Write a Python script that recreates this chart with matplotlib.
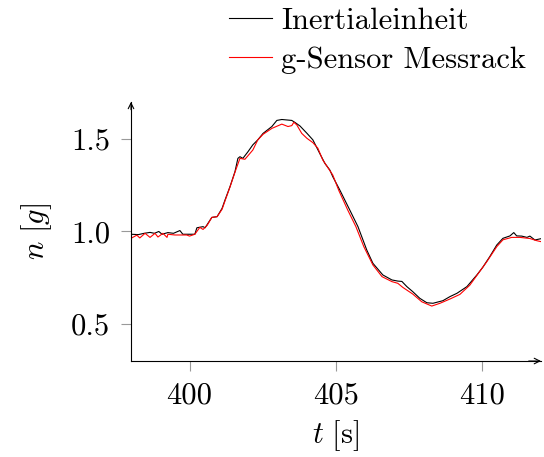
import matplotlib
matplotlib.use("Agg")
import matplotlib.pyplot as plt

plt.rcParams["mathtext.fontset"] = "cm"
plt.rcParams["font.family"] = ["cmr10", "DejaVu Sans"]
plt.rcParams["axes.formatter.use_mathtext"] = True

# Inertialeinheit (black)
t_imu = [398.00, 398.25, 398.45, 398.65, 398.80, 398.95, 399.06, 399.26, 399.45,
	399.67, 399.77, 400.00, 400.18, 400.25, 400.46, 400.53, 400.76, 400.94,
	401.11, 401.21, 401.38, 401.55, 401.65, 401.72, 401.82, 401.99, 402.16,
	402.33, 402.51, 402.81, 402.98, 403.15, 403.49, 403.60, 403.77, 404.01,
	404.21, 404.45, 404.62, 404.79, 404.89, 405.13, 405.47, 405.75, 406.05,
	406.26, 406.60, 406.91, 407.11, 407.25, 407.42, 407.62, 407.86, 408.10,
	408.31, 408.65, 408.89, 409.13, 409.47, 409.81, 410.01, 410.25, 410.49,
	410.70, 410.94, 411.07, 411.17, 411.34, 411.52, 411.62, 411.79, 412.00]
n_imu = [0.985, 0.983, 0.990, 0.995, 0.990, 1.000, 0.985, 0.994, 0.990,
	1.005, 0.985, 0.985, 0.985, 1.020, 1.026, 1.020, 1.076, 1.080,
	1.125, 1.170, 1.242, 1.323, 1.395, 1.404, 1.395, 1.430, 1.468,
	1.495, 1.530, 1.567, 1.600, 1.605, 1.600, 1.589, 1.570, 1.530,
	1.495, 1.420, 1.368, 1.332, 1.296, 1.224, 1.116, 1.026, 0.900,
	0.828, 0.765, 0.738, 0.732, 0.730, 0.702, 0.675, 0.639, 0.615,
	0.612, 0.626, 0.648, 0.666, 0.702, 0.765, 0.806, 0.864, 0.927,
	0.963, 0.976, 0.994, 0.976, 0.975, 0.968, 0.975, 0.954, 0.961]

# g-Sensor Messrack (red)
t_gs = [398.00, 398.20, 398.30, 398.48, 398.65, 398.82, 398.92, 399.09, 399.23,
	399.26, 399.50, 399.90, 400.00, 400.18, 400.35, 400.46, 400.60, 400.76,
	400.94, 401.11, 401.21, 401.38, 401.55, 401.72, 401.89, 402.16, 402.33,
	402.51, 402.81, 403.15, 403.36, 403.49, 403.56, 403.66, 403.83, 404.01,
	404.21, 404.38, 404.55, 404.89, 405.10, 405.40, 405.68, 405.95, 406.26,
	406.57, 406.91, 407.11, 407.28, 407.62, 407.93, 408.27, 408.55, 408.89,
	409.23, 409.57, 410.15, 410.49, 410.70, 411.00, 411.28, 411.62, 411.86,
	412.00]
n_gs = [0.963, 0.980, 0.965, 0.990, 0.968, 0.990, 0.970, 0.990, 0.968,
	0.985, 0.981, 0.981, 0.975, 0.985, 1.022, 1.011, 1.033, 1.076,
	1.080, 1.120, 1.165, 1.240, 1.320, 1.395, 1.390, 1.440, 1.495,
	1.525, 1.557, 1.580, 1.567, 1.572, 1.590, 1.576, 1.530, 1.503,
	1.480, 1.450, 1.386, 1.305, 1.220, 1.116, 1.026, 0.918, 0.819,
	0.756, 0.729, 0.720, 0.698, 0.662, 0.620, 0.597, 0.612, 0.635,
	0.660, 0.710, 0.837, 0.918, 0.955, 0.968, 0.968, 0.962, 0.950,
	0.945]

x_ticks = [400, 405, 410]
y_ticks = [0.5, 1.0, 1.5]

fig = plt.figure(figsize=(5.44, 4.57), dpi=100)
ax = fig.add_axes([0.2408, 0.21, 0.7537, 0.567])

ax.plot(t_imu, n_imu, color="black", lw=0.8, label="Inertialeinheit")
ax.plot(t_gs, n_gs, color="red", lw=0.8, label="g-Sensor Messrack")

ax.set_xlim(398, 412)
ax.set_ylim(0.3, 1.7)
ax.set_xticks(x_ticks)
ax.set_xticklabels([str(v) for v in x_ticks])
ax.set_yticks(y_ticks)
ax.set_yticklabels(["%.1f" % v for v in y_ticks])
ax.tick_params(direction="out", length=7, width=0.8, color="#999999",
	labelsize=22, pad=8)

for s in ("top", "right"):
	ax.spines[s].set_visible(False)
for s in ("left", "bottom"):
	ax.spines[s].set_linewidth(0.8)
	ax.spines[s].set_color("black")

ax.annotate("", xy=(1.0, 0), xytext=(0.97, 0), xycoords="axes fraction",
	arrowprops=dict(arrowstyle="->", lw=0.8, color="black", shrinkA=0, shrinkB=0))
ax.annotate("", xy=(0, 1.0), xytext=(0, 0.97), xycoords="axes fraction",
	arrowprops=dict(arrowstyle="->", lw=0.8, color="black", shrinkA=0, shrinkB=0))

ax.set_xlabel(r"$t\ [\mathrm{s}]$", fontsize=22, labelpad=6)
ax.set_ylabel(r"$n\ [g]$", fontsize=22, labelpad=12)

ax.legend(loc="upper left", bbox_to_anchor=(0.415, 0.99),
	bbox_transform=fig.transFigure, frameon=False,
	fontsize=22, handlelength=1.4, handletextpad=0.3, labelspacing=0.38,
	borderaxespad=0, borderpad=0.1)

fig.savefig("out.png", dpi=100)
